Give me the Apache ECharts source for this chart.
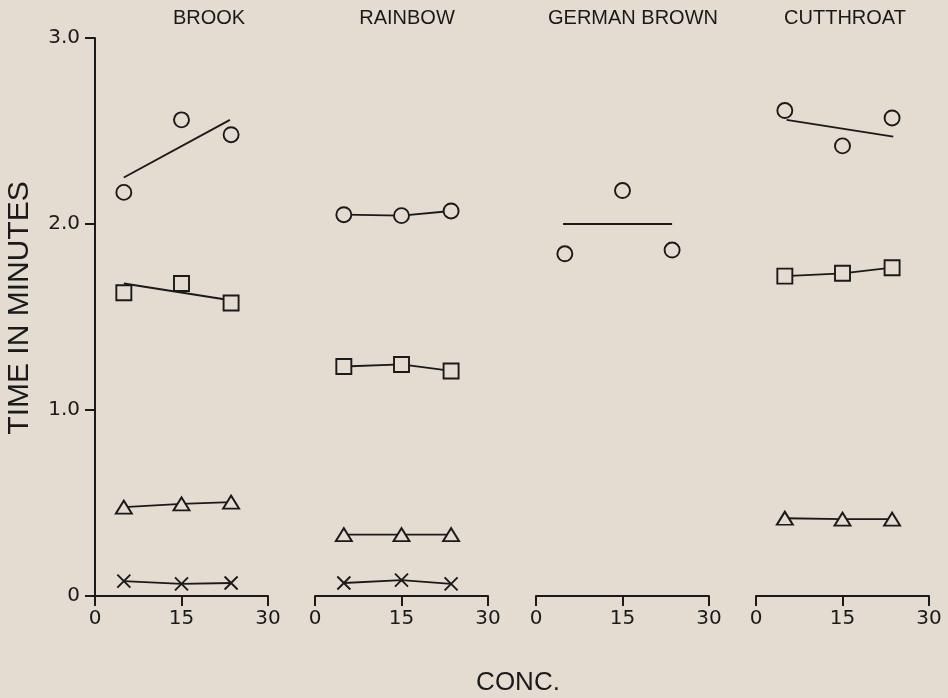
<!DOCTYPE html>
<html>
<head>
<meta charset="utf-8">
<script src="https://cdn.jsdelivr.net/npm/echarts@6/dist/echarts.min.js"></script>
<style>
html,body{margin:0;padding:0;background:#e4dbd1;}
#chart{width:948px;height:698px;}
</style>
</head>
<body>
<div id="chart"></div>
<script>
// ---- data ----
const panelTitles = ['BROOK', 'RAINBOW', 'GERMAN BROWN', 'CUTTHROAT'];
const xTicks = [0, 15, 30];
const yTicks = [0, 1.0, 2.0, 3.0];
const concX = [5, 15, 23.6];

const brookCircle = [2.17, 2.56, 2.48];
const brookCircleFitX = [5.0, 23.4];
const brookCircleFit = [2.25, 2.56];
const brookSquare = [1.63, 1.68, 1.575];
const brookSquareFitX = [5.0, 23.5];
const brookSquareFit = [1.68, 1.59];
const brookTriangle = [0.478, 0.495, 0.505];
const brookCross = [0.08, 0.065, 0.07];

const rainbowCircle = [2.05, 2.045, 2.07];
const rainbowSquare = [1.234, 1.245, 1.21];
const rainbowTriangle = [0.33, 0.33, 0.33];
const rainbowCross = [0.07, 0.085, 0.065];

const germanCircle = [1.84, 2.18, 1.86];
const germanCircleFitX = [4.7, 23.6];
const germanCircleFit = [2.0, 2.0];

const cutCircle = [2.61, 2.42, 2.57];
const cutCircleFitX = [5.3, 23.8];
const cutCircleFit = [2.56, 2.47];
const cutSquare = [1.72, 1.735, 1.765];
const cutTriangle = [0.418, 0.413, 0.413];

// ---- style ----
const BG = '#e4dbd1';
const INK = '#1a1a1a';
const tickFont = 'DejaVu Sans';
const textFont = 'Liberation Sans';
const crossPath = 'path://M0,0L10,10M10,0L0,10';

const gridLefts = [95, 315, 536, 756];
const gridWidth = 173;
const titleCenters = [209, 407, 633, 845];

function pairs(xs, ys) { return xs.map((x, i) => [x, ys[i]]); }

const symbolDefs = {
  circle: { symbol: 'circle', size: 15 },
  square: { symbol: 'rect', size: 15 },
  triangle: { symbol: 'triangle', size: [16, 13] },
  cross: { symbol: crossPath, size: 13 }
};

function markerSeries(panel, kind, values, connected) {
  const d = symbolDefs[kind];
  return {
    type: 'line',
    xAxisIndex: panel, yAxisIndex: panel,
    data: pairs(concX, values),
    symbol: d.symbol, symbolSize: d.size, showSymbol: true,
    itemStyle: { color: BG, borderColor: INK, borderWidth: 1.9 },
    lineStyle: { color: INK, width: connected ? 1.8 : 0, opacity: connected ? 1 : 0 },
    z: 5, animation: false, silent: true
  };
}
function fitSeries(panel, xs, ys) {
  return {
    type: 'line',
    xAxisIndex: panel, yAxisIndex: panel,
    data: pairs(xs, ys),
    showSymbol: false, symbol: 'none',
    lineStyle: { color: INK, width: 1.9 },
    z: 3, animation: false, silent: true
  };
}

const grids = gridLefts.map(l => ({ left: l, width: gridWidth, top: 38, bottom: 102 }));
const xAxes = gridLefts.map((l, i) => ({
  gridIndex: i, type: 'value', min: xTicks[0], max: xTicks[xTicks.length - 1], interval: 15,
  axisLine: { lineStyle: { color: INK, width: 2 } },
  axisTick: { length: 10, lineStyle: { color: INK, width: 2 } },
  axisLabel: { color: INK, fontFamily: tickFont, fontSize: 20, margin: 13 },
  splitLine: { show: false }
}));
const yAxes = gridLefts.map((l, i) => ({
  gridIndex: i, type: 'value', min: yTicks[0], max: yTicks[yTicks.length - 1], interval: 1,
  show: i === 0,
  axisLine: { show: true, lineStyle: { color: INK, width: 2 } },
  axisTick: { show: true, length: 10, lineStyle: { color: INK, width: 2 } },
  axisLabel: { color: INK, fontFamily: tickFont, fontSize: 20, margin: 15,
    formatter: v => (v === 0 ? '0' : v.toFixed(1)) },
  splitLine: { show: false }
}));

const series = [
  fitSeries(0, brookCircleFitX, brookCircleFit),
  markerSeries(0, 'circle', brookCircle, false),
  fitSeries(0, brookSquareFitX, brookSquareFit),
  markerSeries(0, 'square', brookSquare, false),
  markerSeries(0, 'triangle', brookTriangle, true),
  markerSeries(0, 'cross', brookCross, true),

  markerSeries(1, 'circle', rainbowCircle, true),
  markerSeries(1, 'square', rainbowSquare, true),
  markerSeries(1, 'triangle', rainbowTriangle, true),
  markerSeries(1, 'cross', rainbowCross, true),

  fitSeries(2, germanCircleFitX, germanCircleFit),
  markerSeries(2, 'circle', germanCircle, false),

  fitSeries(3, cutCircleFitX, cutCircleFit),
  markerSeries(3, 'circle', cutCircle, false),
  markerSeries(3, 'square', cutSquare, true),
  markerSeries(3, 'triangle', cutTriangle, true)
];

const chart = echarts.init(document.getElementById('chart'), null, { renderer: 'canvas' });
chart.setOption({
  backgroundColor: BG,
  animation: false,
  title: panelTitles.map((t, i) => ({
    text: t, left: titleCenters[i], top: 8, textAlign: 'center', padding: 0,
    textStyle: { color: INK, fontFamily: textFont, fontWeight: 'normal', fontSize: 20 }
  })),
  grid: grids,
  xAxis: xAxes,
  yAxis: yAxes,
  series: series,
  graphic: [
    { type: 'text', x: 20, y: 308, rotation: Math.PI / 2,
      style: { text: 'TIME IN MINUTES', fill: INK, font: '30px "Liberation Sans"',
        align: 'center', verticalAlign: 'middle', textAlign: 'center', textVerticalAlign: 'middle' } },
    { type: 'text', x: 518, y: 683,
      style: { text: 'CONC.', fill: INK, font: '26px "Liberation Sans"',
        align: 'center', verticalAlign: 'middle', textAlign: 'center', textVerticalAlign: 'middle' } }
  ]
});
</script>
</body>
</html>
